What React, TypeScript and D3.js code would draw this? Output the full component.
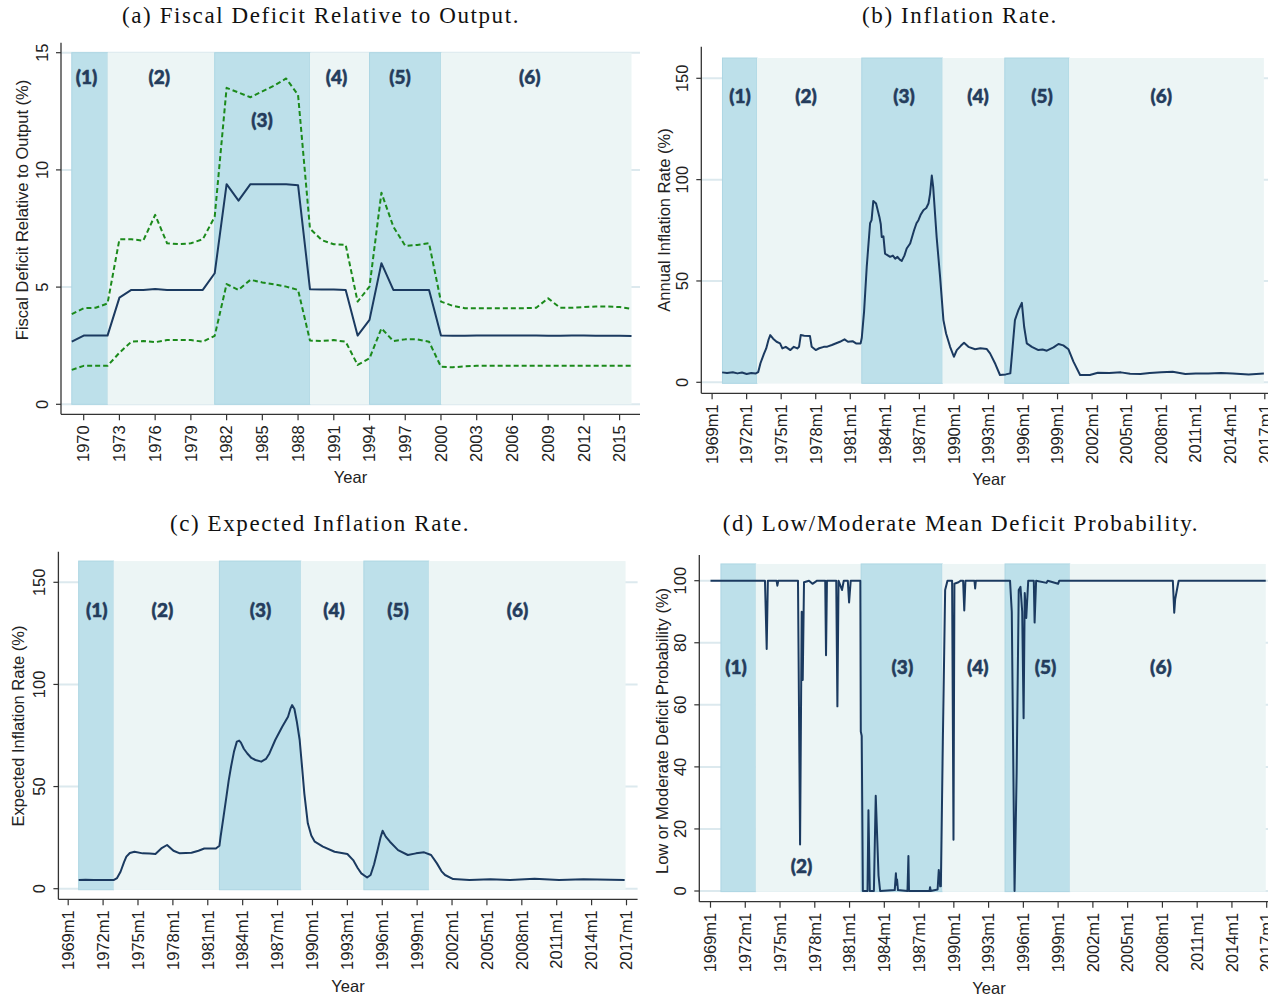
import * as d3 from "d3";

// ---- data ----
const FISCAL_YEARS = d3.range(1969, 2017);

const DEFICIT_MEAN = [
  2.67, 2.93, 2.93, 2.93, 4.55, 4.88, 4.88, 4.92, 4.88, 4.88, 4.88, 4.88, 5.59, 9.39, 8.69, 9.39,
  9.39, 9.39, 9.39, 9.35, 4.91, 4.9, 4.9, 4.88, 2.93, 3.6, 6.02, 4.88, 4.88, 4.88, 4.88, 2.93,
  2.92, 2.92, 2.93, 2.93, 2.93, 2.93, 2.93, 2.93, 2.92, 2.92, 2.93, 2.93, 2.92, 2.92, 2.92, 2.91,
];
const DEFICIT_UPPER = [
  3.85, 4.1, 4.12, 4.3, 7.04, 7.04, 6.98, 8.08, 6.87, 6.83, 6.87, 7.04, 8.0, 13.5, 13.3, 13.1,
  13.35, 13.6, 13.9, 13.2, 7.5, 7.0, 6.83, 6.8, 4.38, 5.02, 9.03, 7.58, 6.76, 6.8, 6.87, 4.38,
  4.2, 4.1, 4.1, 4.1, 4.1, 4.1, 4.1, 4.12, 4.52, 4.12, 4.12, 4.15, 4.17, 4.17, 4.15, 4.07,
];
const DEFICIT_LOWER = [
  1.47, 1.64, 1.64, 1.64, 2.2, 2.67, 2.7, 2.65, 2.74, 2.74, 2.74, 2.67, 2.92, 5.13, 4.88, 5.31,
  5.2, 5.12, 5.02, 4.88, 2.72, 2.7, 2.74, 2.67, 1.68, 1.96, 3.24, 2.7, 2.77, 2.77, 2.67, 1.6,
  1.58, 1.62, 1.64, 1.64, 1.64, 1.64, 1.64, 1.64, 1.64, 1.64, 1.64, 1.64, 1.64, 1.64, 1.64, 1.64,
];

// [decimal year, annual inflation %]
const INFLATION: [number, number][] = [
  [1969.87, 4.9], [1970.3, 4.6], [1970.8, 5], [1971.2, 4.4], [1971.6, 4.8], [1972.0, 4.1],
  [1972.4, 4.6], [1972.8, 4.4], [1973.0, 5], [1973.2, 9.4], [1973.5, 14], [1973.7, 16.7],
  [1973.9, 21], [1974.05, 23.3], [1974.3, 21.5], [1974.6, 20], [1974.9, 19.2], [1975.1, 16.7],
  [1975.4, 17.5], [1975.8, 15.9], [1976.1, 17.5], [1976.4, 16.7], [1976.55, 17.5], [1976.7, 23.3],
  [1977.0, 23], [1977.5, 22.8], [1977.65, 17.5], [1978.0, 15.9], [1978.3, 16.8], [1978.7, 17.5],
  [1979.0, 17.6], [1979.4, 18.4], [1980.1, 20], [1980.5, 21.2], [1980.8, 20], [1981.2, 20.3],
  [1981.5, 19.2], [1981.9, 19.2], [1982.0, 22], [1982.2, 35], [1982.43, 57], [1982.72, 78.5],
  [1982.85, 80], [1983.0, 89.5], [1983.24, 88.2], [1983.53, 81.6], [1983.65, 78], [1983.73, 71.7],
  [1983.88, 72], [1984.02, 63.5], [1984.46, 61.9], [1984.7, 62.5], [1984.9, 61], [1985.1, 61.9],
  [1985.3, 60.5], [1985.47, 59.9], [1985.7, 62.5], [1985.9, 66], [1986.2, 68.5], [1986.54, 75],
  [1986.75, 78.5], [1986.92, 80], [1987.1, 82.5], [1987.35, 84.9], [1987.6, 86], [1987.79, 88.2],
  [1987.93, 93], [1988.08, 102], [1988.2, 96.4], [1988.5, 71.7], [1988.8, 52], [1989.09, 30.7],
  [1989.32, 24.1], [1989.67, 17.5], [1990.0, 12.6], [1990.25, 15.9], [1990.6, 18], [1990.88, 19.5],
  [1991.26, 17.5], [1991.84, 16.3], [1992.3, 16.8], [1992.86, 16.4], [1993.14, 14.3], [1993.6, 9],
  [1994.0, 3.6], [1994.5, 3.9], [1994.9, 4.4], [1995.1, 17.5], [1995.3, 30.7], [1995.6, 35.6],
  [1995.9, 39.2], [1996.1, 27.4], [1996.33, 19.2], [1996.77, 17.5], [1997.34, 15.9], [1997.7, 16.2],
  [1998.07, 15.6], [1998.65, 17.2], [1999.08, 18.9], [1999.5, 18.2], [1999.95, 16.3], [2000.38, 10.2],
  [2000.96, 3.6], [2001.8, 3.6], [2002.5, 4.7], [2003.5, 4.6], [2004.5, 4.9], [2005.3, 4.2],
  [2006.2, 4.1], [2007.0, 4.6], [2008.0, 4.9], [2009.0, 5.2], [2010.1, 4.1], [2011.0, 4.4],
  [2012.1, 4.4], [2013.2, 4.6], [2014.2, 4.4], [2015.6, 3.9], [2016.92, 4.4],
];

// [decimal year, expected inflation %]
const EXPECTED_INFLATION: [number, number][] = [
  [1969.9, 4.2], [1970.5, 4.4], [1971.2, 4.2], [1972.0, 4.3], [1972.9, 4.2], [1973.2, 5.2],
  [1973.5, 8.3], [1973.8, 13], [1974.0, 15.7], [1974.3, 17.5], [1974.7, 18.1], [1975.4, 17.3],
  [1976.0, 17.2], [1976.5, 17], [1977.0, 19.7], [1977.5, 21.4], [1978.05, 18.6], [1978.6, 17.3],
  [1979.6, 17.6], [1980.2, 18.6], [1980.7, 19.7], [1981.7, 19.7], [1982.0, 21], [1982.1, 25.4],
  [1982.35, 35], [1982.6, 45], [1982.8, 53], [1983.0, 59.7], [1983.25, 67], [1983.5, 72],
  [1983.7, 72.5], [1983.85, 71.5], [1984.1, 68.5], [1984.4, 66.2], [1984.75, 64], [1985.1, 63],
  [1985.6, 62.2], [1986.0, 63.5], [1986.3, 66.2], [1986.8, 72.8], [1987.4, 79.3], [1987.9, 84.2],
  [1988.1, 88], [1988.25, 89.9], [1988.45, 88], [1988.65, 82], [1988.9, 72.8], [1989.1, 60],
  [1989.3, 46.7], [1989.6, 32], [1989.9, 26], [1990.2, 23], [1990.9, 20.6], [1991.9, 18.1],
  [1993.0, 17], [1993.5, 14], [1993.9, 10], [1994.2, 7.5], [1994.7, 5.5], [1995.0, 6.7],
  [1995.3, 12], [1995.6, 18.9], [1995.85, 25], [1996.03, 28.4], [1996.3, 25.5], [1996.66, 23],
  [1997.36, 18.9], [1998.2, 16.5], [1998.9, 17.3], [1999.6, 17.8], [2000.2, 16.5], [2000.7, 12.4],
  [2001.1, 8.5], [2001.4, 6.7], [2002.1, 4.7], [2003.5, 4.2], [2005.3, 4.6], [2007.0, 4.2],
  [2009.1, 4.9], [2011.2, 4.2], [2013.3, 4.6], [2016.84, 4.2],
];

// [decimal year, low/moderate deficit probability %]
const DEFICIT_PROB: [number, number][] = [
  [1969.0, 100], [1973.7, 100], [1973.85, 78], [1973.95, 100], [1974.7, 100], [1974.77, 98.4],
  [1974.85, 100], [1976.55, 100], [1976.73, 15], [1976.87, 90], [1976.96, 68], [1977.07, 99.5],
  [1977.5, 100], [1977.8, 99], [1978.2, 100], [1978.9, 100], [1978.97, 76], [1979.05, 100],
  [1979.85, 100], [1979.95, 59.5], [1980.05, 100], [1980.35, 97], [1980.5, 100], [1980.85, 100],
  [1980.96, 93], [1981.1, 100], [1981.93, 100], [1981.97, 51.4], [1982.05, 50], [1982.15, 0],
  [1982.55, 0], [1982.63, 26], [1982.75, 0], [1983.1, 0], [1983.26, 30.7], [1983.5, 5],
  [1983.64, 0], [1984.9, 0.3], [1985.0, 5.7], [1985.05, 2], [1985.1, 3.7], [1985.18, 0.3],
  [1986.0, 0], [1986.08, 11.3], [1986.13, 0], [1987.9, 0], [1987.95, 1.2], [1988.0, 0],
  [1988.6, 0.5], [1988.7, 6.8], [1988.82, 1.5], [1988.88, 1.5], [1989.05, 48], [1989.25, 97],
  [1989.45, 100], [1989.85, 100], [1989.97, 16.5], [1990.05, 99], [1990.4, 99.5], [1990.6, 100],
  [1990.8, 100], [1990.9, 90.4], [1991.0, 100], [1991.78, 100], [1991.84, 97.5], [1991.9, 100],
  [1994.85, 100], [1995.0, 90], [1995.24, 0], [1995.42, 38], [1995.6, 97], [1995.75, 98],
  [1995.9, 90], [1996.02, 55.7], [1996.12, 96], [1996.25, 88], [1996.42, 100], [1996.9, 100],
  [1996.97, 86.5], [1997.1, 100], [1998.0, 99.3], [1998.1, 100], [1999.0, 99], [1999.1, 100],
  [2008.9, 100], [2009.02, 89.7], [2009.1, 94], [2009.4, 100], [2016.92, 100],
];

const ANNUAL_BREAKS = [1969, 1972, 1981, 1989, 1994, 2000, 2016];
const MONTHLY_BREAKS = [1969.9, 1972.9, 1982.0, 1989.0, 1994.42, 2000.0, 2016.92];
const REGIME_NAMES = ["(1)", "(2)", "(3)", "(4)", "(5)", "(6)"];

const YEAR_TICKS = d3.range(1970, 2016, 3);
const MONTH_TICKS = d3.range(1969, 2018, 3);

// ---- styling ----
const DARK = "#bde0ea";
const LIGHT = "#ecf5f5";
const GRID = "#dce9ee";
const NAVY = "#1b3a60";
const GREEN = "#1b8a1b";
const LABEL = "#243c5c";
const SANS = "'Liberation Sans', Arial, sans-serif";

type Series = { points: [number, number][]; color: string; dash?: string };

interface PanelSpec {
  title: string;
  titleX: number;
  titleY: number;
  xDomain: [number, number];
  xRange: [number, number];
  yDomain: [number, number];
  yRange: [number, number];
  yTicks: number[];
  xTicks: number[];
  xFmt: (d: number) => string;
  axisX: number;
  axisTop: number;
  axisY: number;
  axisRight: number;
  yLabel: string;
  yLabelPos: [number, number];
  xLabelPos: [number, number];
  band: [number, number];
  breaks: number[];
  labelX: number[];
  labelY: number[];
  series: Series[];
}

function Panel({ p }: { p: PanelSpec }) {
  const x = d3.scaleLinear().domain(p.xDomain).range(p.xRange);
  const y = d3.scaleLinear().domain(p.yDomain).range(p.yRange);
  const line = d3
    .line<[number, number]>()
    .x((d) => x(d[0]))
    .y((d) => y(d[1]));

  return (
    <g>
      <text
        x={p.titleX}
        y={p.titleY}
        textAnchor="middle"
        fontFamily="'Liberation Serif', 'Times New Roman', serif"
        fontSize={23}
        letterSpacing={1.6}
        fill="#111"
      >
        {p.title}
      </text>

      {/* grid */}
      {p.yTicks.map((t) => (
        <line key={t} x1={p.axisX} x2={p.axisRight} y1={y(t)} y2={y(t)} stroke={GRID} strokeWidth={2} />
      ))}

      {/* regime shading */}
      {REGIME_NAMES.map((_, i) => (
        <rect
          key={i}
          x={x(p.breaks[i])}
          width={x(p.breaks[i + 1]) - x(p.breaks[i])}
          y={y(p.band[1])}
          height={y(p.band[0]) - y(p.band[1])}
          fill={i % 2 === 0 ? DARK : LIGHT}
          stroke={i % 2 === 0 ? "#add6e3" : "none"}
          strokeWidth={1}
        />
      ))}

      {/* series */}
      {p.series.map((s, i) => (
        <path
          key={i}
          d={line(s.points) ?? ""}
          fill="none"
          stroke={s.color}
          strokeWidth={2}
          strokeDasharray={s.dash}
          strokeLinejoin="round"
        />
      ))}

      {/* regime labels */}
      {REGIME_NAMES.map((name, i) => (
        <text
          key={name}
          x={x(p.labelX[i])}
          y={y(p.labelY[i])}
          dy="0.35em"
          textAnchor="middle"
          fontFamily="Lato, 'Open Sans', sans-serif"
          fontWeight={900}
          fontSize={19}
          fill={LABEL}
          stroke={LABEL}
          strokeWidth={0.5}
        >
          {name}
        </text>
      ))}

      {/* axes */}
      <line x1={p.axisX} x2={p.axisX} y1={p.axisTop} y2={p.axisY} stroke="#333" strokeWidth={1.3} />
      <line x1={p.axisX} x2={p.axisRight} y1={p.axisY} y2={p.axisY} stroke="#333" strokeWidth={1.3} />
      {p.yTicks.map((t) => (
        <g key={t}>
          <line x1={p.axisX - 5} x2={p.axisX} y1={y(t)} y2={y(t)} stroke="#333" strokeWidth={1.2} />
          <text
            transform={`translate(${p.axisX - 13.5},${y(t)}) rotate(-90)`}
            textAnchor="middle"
            fontFamily={SANS}
            fontSize={16.5}
            fill="#222"
          >
            {t}
          </text>
        </g>
      ))}
      {p.xTicks.map((t) => (
        <g key={t}>
          <line x1={x(t)} x2={x(t)} y1={p.axisY} y2={p.axisY + 6} stroke="#333" strokeWidth={1.2} />
          <text
            transform={`translate(${x(t)},${p.axisY + 11}) rotate(-90)`}
            textAnchor="end"
            dy="0.35em"
            fontFamily={SANS}
            fontSize={16.5}
            fill="#222"
          >
            {p.xFmt(t)}
          </text>
        </g>
      ))}
      <text
        transform={`translate(${p.yLabelPos[0]},${p.yLabelPos[1]}) rotate(-90)`}
        textAnchor="middle"
        dy="0.35em"
        fontFamily={SANS}
        fontSize={16.5}
        fill="#222"
      >
        {p.yLabel}
      </text>
      <text
        x={p.xLabelPos[0]}
        y={p.xLabelPos[1]}
        dy="0.35em"
        textAnchor="middle"
        fontFamily={SANS}
        fontSize={16.5}
        fill="#222"
      >
        Year
      </text>
    </g>
  );
}

const yearFmt = (d: number) => String(d);
const monthFmt = (d: number) => `${d}m1`;

const PANELS: PanelSpec[] = [
  {
    title: "(a) Fiscal Deficit Relative to Output.",
    titleX: 321,
    titleY: 23,
    xDomain: [1970, 2015],
    xRange: [83.7, 619.6],
    yDomain: [0, 15],
    yRange: [404.3, 52.7],
    yTicks: [0, 5, 10, 15],
    xTicks: YEAR_TICKS,
    xFmt: yearFmt,
    axisX: 61,
    axisTop: 42.7,
    axisY: 414.3,
    axisRight: 640,
    yLabel: "Fiscal Deficit Relative to Output (%)",
    yLabelPos: [22.5, 210],
    xLabelPos: [350.5, 477],
    band: [0, 15],
    breaks: ANNUAL_BREAKS,
    labelX: [1970.24, 1976.35, 1984.97, 1991.23, 1996.56, 2007.45],
    labelY: [13.93, 13.93, 12.13, 13.93, 13.93, 13.93],
    series: [
      { points: FISCAL_YEARS.map((yr, i) => [yr, DEFICIT_UPPER[i]]), color: GREEN, dash: "5 3" },
      { points: FISCAL_YEARS.map((yr, i) => [yr, DEFICIT_LOWER[i]]), color: GREEN, dash: "5 3" },
      { points: FISCAL_YEARS.map((yr, i) => [yr, DEFICIT_MEAN[i]]), color: NAVY },
    ],
  },
  {
    title: "(b) Inflation Rate.",
    titleX: 960,
    titleY: 23,
    xDomain: [1969, 2017],
    xRange: [712.1, 1264.8],
    yDomain: [0, 150],
    yRange: [382.3, 78.3],
    yTicks: [0, 50, 100, 150],
    xTicks: MONTH_TICKS,
    xFmt: monthFmt,
    axisX: 701.3,
    axisTop: 46.7,
    axisY: 393.3,
    axisRight: 1280,
    yLabel: "Annual Inflation Rate (%)",
    yLabelPos: [664, 220],
    xLabelPos: [989, 479],
    band: [-0.5, 160],
    breaks: MONTHLY_BREAKS,
    labelX: [1971.42, 1977.16, 1985.67, 1992.1, 1997.66, 2008.0],
    labelY: [141.2, 141.2, 141.2, 141.2, 141.2, 141.2],
    series: [{ points: INFLATION, color: NAVY }],
  },
  {
    title: "(c) Expected Inflation Rate.",
    titleX: 320,
    titleY: 531,
    xDomain: [1969, 2017],
    xRange: [68.2, 626.5],
    yDomain: [0, 150],
    yRange: [888.7, 582.3],
    yTicks: [0, 50, 100, 150],
    xTicks: MONTH_TICKS,
    xFmt: monthFmt,
    axisX: 58.4,
    axisTop: 551.7,
    axisY: 899.3,
    axisRight: 637.6,
    yLabel: "Expected Inflation Rate (%)",
    yLabelPos: [18.4, 726],
    xLabelPos: [348, 986],
    band: [-0.5, 160.4],
    breaks: MONTHLY_BREAKS,
    labelX: [1971.45, 1977.1, 1985.53, 1991.85, 1997.36, 2007.64],
    labelY: [136.4, 136.4, 136.4, 136.4, 136.4, 136.4],
    series: [{ points: EXPECTED_INFLATION, color: NAVY }],
  },
  {
    title: "(d) Low/Moderate Mean Deficit Probability.",
    titleX: 961,
    titleY: 531,
    xDomain: [1969, 2017],
    xRange: [710.5, 1266.7],
    yDomain: [0, 100],
    yRange: [891, 580.7],
    yTicks: [0, 20, 40, 60, 80, 100],
    xTicks: MONTH_TICKS,
    xFmt: monthFmt,
    axisX: 699.3,
    axisTop: 555,
    axisY: 901.7,
    axisRight: 1280,
    yLabel: "Low or Moderate Deficit Probability (%)",
    yLabelPos: [662, 731],
    xLabelPos: [989, 988],
    band: [-0.2, 105.4],
    breaks: MONTHLY_BREAKS,
    labelX: [1971.21, 1976.85, 1985.56, 1992.07, 1997.91, 2007.87],
    labelY: [72, 7.8, 72, 72, 72, 72],
    series: [{ points: DEFICIT_PROB, color: NAVY }],
  },
];

export default function App() {
  return (
    <>
      <style>{`body{margin:0;overflow:hidden;background:#fff}`}</style>
      <svg width={1268} height={999} style={{ display: "block" }}>
        <rect width={1268} height={999} fill="#fff" />
        {PANELS.map((p) => (
          <Panel key={p.title} p={p} />
        ))}
      </svg>
    </>
  );
}
